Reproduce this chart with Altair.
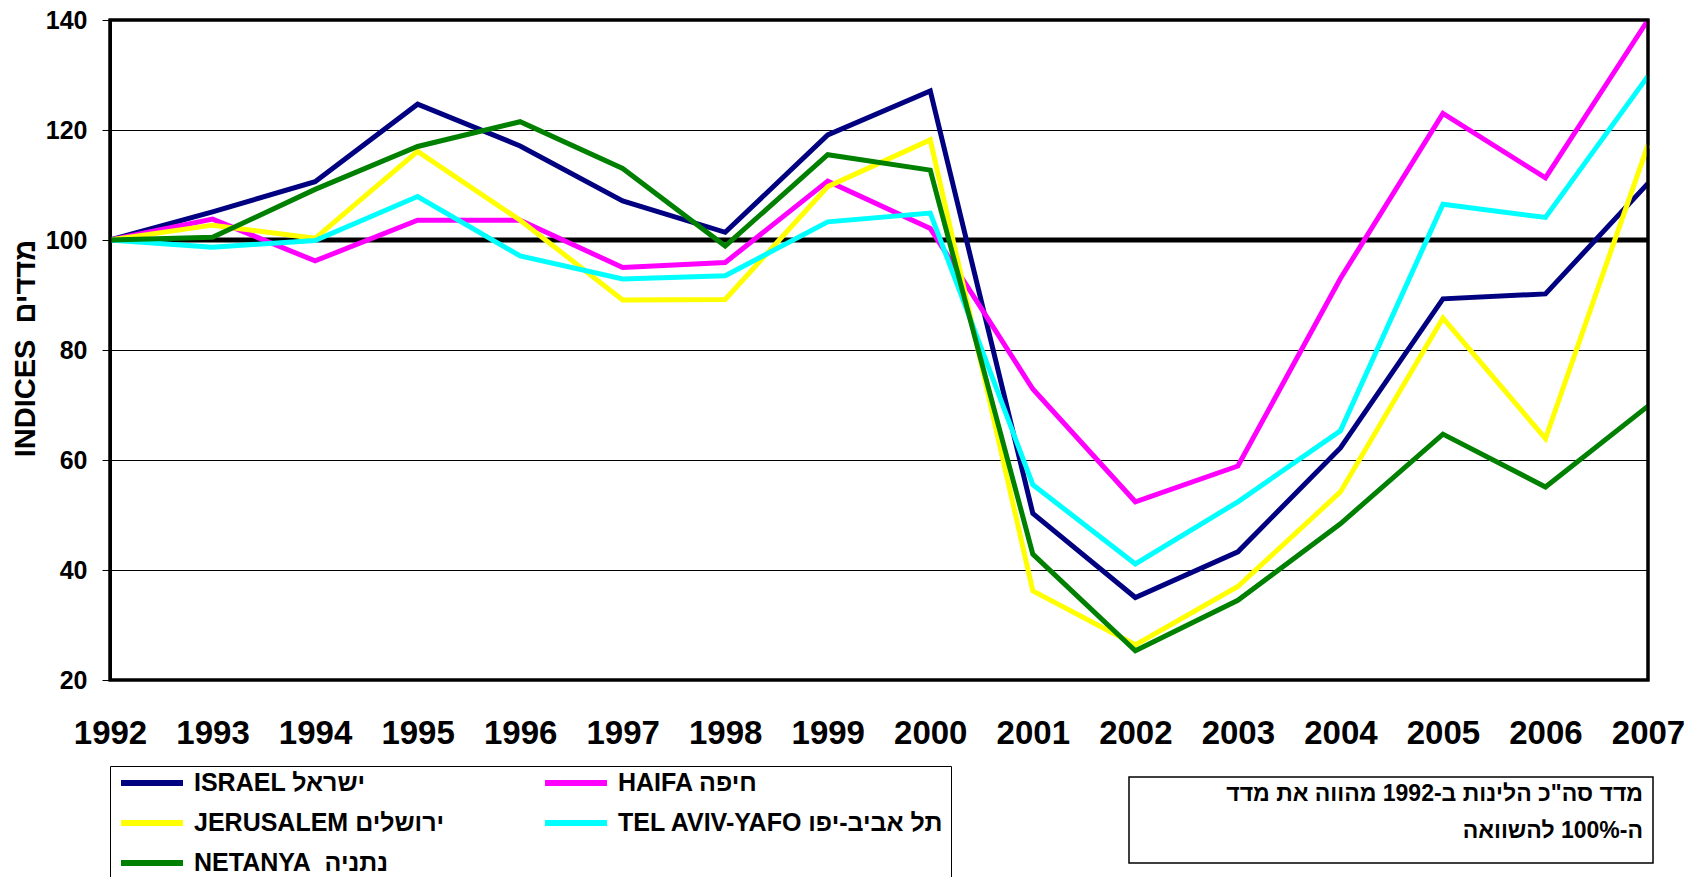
import altair as alt
import pandas as pd

years = list(range(1992, 2008))
series_names = ["ISRAEL ישראל", "HAIFA חיפה", "JERUSALEM ירושלים",
                "TEL AVIV-YAFO תל אביב-יפו", "NETANYA\u00a0\u00a0נתניה"]
series_colors = ["#000080", "#FF00FF", "#FFFF00", "#00FFFF", "#008000"]
# legend reads row by row in the reference: Israel, Haifa / Jerusalem, Tel Aviv / Netanya
legend_order = [0, 2, 4, 1, 3]

israel = [100, 105.1, 110.6, 124.7, 117.1, 107.1, 101.4, 119.1, 127.1, 50.3, 35.0, 43.3, 62.2, 89.3, 90.2, 110.3]
haifa = [100, 103.8, 96.2, 103.6, 103.6, 95.0, 95.9, 110.7, 102.1, 72.9, 52.4, 58.9, 93.0, 123.0, 111.3, 140.0]
jerusalem = [100, 102.7, 100.3, 116.1, 103.6, 89.1, 89.2, 109.7, 118.2, 36.2, 26.4, 37.0, 54.2, 85.8, 63.9, 117.3]
telaviv = [100, 98.7, 99.9, 107.9, 97.1, 92.9, 93.5, 103.3, 104.9, 55.5, 41.1, 52.4, 65.3, 106.5, 104.1, 129.8]
netanya = [100, 100.5, 109.2, 117.0, 121.5, 113.0, 98.9, 115.5, 112.7, 42.9, 25.3, 34.5, 48.4, 64.7, 55.1, 69.8]

y_ticks = [20, 40, 60, 80, 100, 120, 140]
base_value = [100]
y_title = "INDICES\u00a0\u00a0מדדים"
note_text = ['מדד סה"כ הלינות ב-1992 מהווה את מדד', "ה-100% להשוואה"]

FONT = "Liberation Sans, Arial, sans-serif"
W, H = 1538, 660

rows = []
for name, vals in zip(series_names, [israel, haifa, jerusalem, telaviv, netanya]):
    for yr, v in zip(years, vals):
        rows.append({"year": yr, "value": v, "series": name})
df = pd.DataFrame(rows)

legend_domain = [series_names[i] for i in legend_order]
legend_range = [series_colors[i] for i in legend_order]

x_enc = alt.X("year:Q",
              scale=alt.Scale(domain=[years[0], years[-1]], nice=False, zero=False),
              axis=alt.Axis(values=years, format="d", title=None, grid=False,
                            domain=False, ticks=False, labelFlush=False,
                            labelOverlap=False, labelFont=FONT, labelFontWeight="bold",
                            labelFontSize=33, labelColor="black", labelPadding=37))
y_scale = alt.Scale(domain=[y_ticks[0], y_ticks[-1]], nice=False, zero=False)
y_axis = alt.Axis(values=y_ticks, title=y_title, grid=True, gridColor="black",
                  gridWidth=1, gridOpacity=1, domainColor="black", domainWidth=3,
                  tickColor="black", tickSize=8, tickWidth=1,
                  labelFont=FONT, labelFontWeight="bold", labelFontSize=25,
                  labelColor="black", labelPadding=15,
                  titleFont=FONT, titleFontWeight="bold", titleFontSize=29,
                  titleColor="black", titleAngle=270, titleX=-85, titleY=328,
                  titleAlign="center", titleBaseline="middle")

rule = alt.Chart(pd.DataFrame({"v": base_value})).mark_rule(
    color="black", strokeWidth=5).encode(y=alt.Y("v:Q", scale=y_scale, axis=y_axis))

lines = alt.Chart(df).mark_line(strokeWidth=5, strokeJoin="miter").encode(
    x=x_enc,
    y=alt.Y("value:Q", scale=y_scale, axis=y_axis),
    color=alt.Color("series:N", sort=legend_domain,
                    scale=alt.Scale(domain=legend_domain, range=legend_range),
                    legend=alt.Legend(orient="none", legendX=0, legendY=746,
                                      columns=2, title=None, symbolType="stroke",
                                      symbolSize=3844, symbolStrokeWidth=6,
                                      clipHeight=20, rowPadding=15, columnPadding=96,
                                      labelFont=FONT, labelFontWeight="bold",
                                      labelFontSize=25, labelColor="black",
                                      labelOffset=8, labelLimit=500, padding=7,
                                      symbolOffset=1, strokeColor="black",
                                      fillColor="white")),
)

frame = alt.Chart(pd.DataFrame({"k": [1]})).mark_rect(
    fill="transparent", stroke="black", strokeWidth=3).encode(
    x=alt.value(0), x2=alt.value(W), y=alt.value(0), y2=alt.value(H))

note_box = alt.Chart(pd.DataFrame({"k": [1]})).mark_rect(
    fill="white", stroke="black", strokeWidth=1.5).encode(
    x=alt.value(1019), x2=alt.value(1543), y=alt.value(757), y2=alt.value(843))

note = alt.Chart(pd.DataFrame({"t": ["\n".join(note_text)]})).mark_text(
    align="right", baseline="top", font=FONT, fontWeight="bold", fontSize=23,
    color="black", lineBreak="\n", lineHeight=37).encode(
    text="t:N", x=alt.value(1533), y=alt.value(763))

chart = alt.layer(rule, lines, frame, note_box, note).properties(
    width=W, height=H,
    background="white",
    autosize=alt.AutoSizeParams(type="none"),
    padding={"left": 102, "top": 12, "right": 41, "bottom": 197},
).configure_view(stroke="black", strokeWidth=3)

chart.save("out.html", embed_options={"renderer": "svg", "actions": False})
